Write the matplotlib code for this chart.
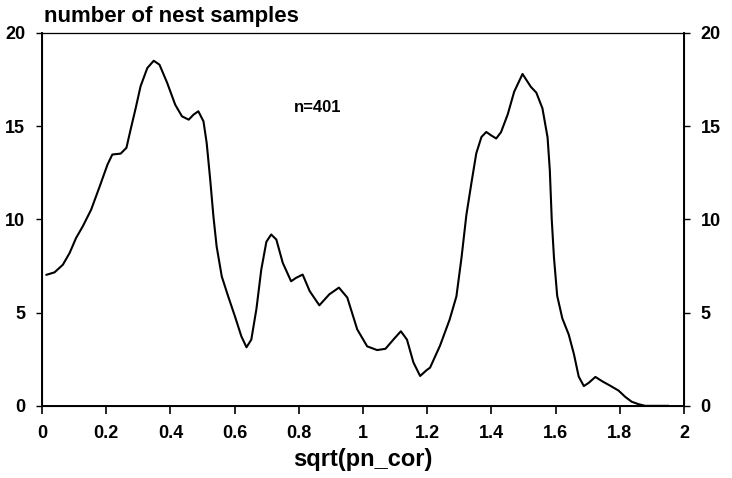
import matplotlib.pyplot as plt

plt.rcParams["font.family"] = ["Liberation Sans", "DejaVu Sans"]
plt.rcParams["font.weight"] = "bold"

# curve
x_vals = [0.014, 0.039, 0.065, 0.086, 0.106, 0.127, 0.153, 0.178, 0.204, 0.219,
          0.245, 0.263, 0.276, 0.292, 0.307, 0.328, 0.348, 0.366, 0.390, 0.415,
          0.436, 0.457, 0.472, 0.487, 0.503, 0.513, 0.524, 0.534, 0.544, 0.560,
          0.580, 0.601, 0.621, 0.637, 0.652, 0.668, 0.683, 0.699, 0.714, 0.730,
          0.750, 0.776, 0.791, 0.812, 0.834, 0.864, 0.895, 0.925, 0.951, 0.982,
          1.013, 1.044, 1.070, 1.095, 1.118, 1.137, 1.157, 1.178, 1.198, 1.209,
          1.240, 1.270, 1.291, 1.307, 1.322, 1.338, 1.353, 1.369, 1.384, 1.399,
          1.415, 1.430, 1.451, 1.471, 1.497, 1.523, 1.540, 1.559, 1.575, 1.582,
          1.588, 1.595, 1.605, 1.621, 1.641, 1.657, 1.672, 1.688, 1.703, 1.724,
          1.745, 1.770, 1.796, 1.817, 1.837, 1.858, 1.879, 1.95]
y_vals = [7.03, 7.16, 7.57, 8.2, 9.0, 9.63, 10.52, 11.69, 12.94, 13.48,
          13.53, 13.84, 14.82, 15.98, 17.14, 18.12, 18.51, 18.3, 17.32, 16.15,
          15.53, 15.35, 15.62, 15.8, 15.26, 14.1, 12.13, 10.16, 8.55, 6.94,
          5.87, 4.8, 3.73, 3.14, 3.55, 5.2, 7.3, 8.8, 9.19, 8.92,
          7.67, 6.68, 6.86, 7.04, 6.15, 5.39, 5.98, 6.34, 5.81, 4.1,
          3.19, 2.99, 3.06, 3.56, 4.0, 3.55, 2.33, 1.6, 1.91, 2.05,
          3.23, 4.63, 5.87, 7.96, 10.23, 11.98, 13.55, 14.42, 14.69, 14.51,
          14.34, 14.68, 15.64, 16.85, 17.8, 17.11, 16.8, 15.96, 14.4, 12.64,
          10.0, 7.94, 5.9, 4.69, 3.82, 2.78, 1.57, 1.06, 1.23, 1.55,
          1.32, 1.08, 0.82, 0.48, 0.22, 0.09, 0.0, 0.0]

x_ticks = [0, 0.2, 0.4, 0.6, 0.8, 1, 1.2, 1.4, 1.6, 1.8, 2]
x_labels = ["0", "0.2", "0.4", "0.6", "0.8", "1", "1.2", "1.4", "1.6", "1.8", "2"]
y_ticks = [0, 5, 10, 15, 20]

fig = plt.figure(figsize=(7.32, 4.78), dpi=100)
ax = fig.add_axes([0.0574, 0.151, 0.877, 0.780])
ax.plot(x_vals, y_vals, color="black", lw=1.5, solid_joinstyle="round")
ax.set_xlim(0, 2)
ax.set_ylim(0, 20)
ax.set_xticks(x_ticks)
ax.set_xticklabels(x_labels)
ax.set_yticks(y_ticks)
ax.tick_params(axis="x", direction="out", length=6, width=1.2, pad=8, labelsize=13)
ax.tick_params(axis="y", direction="out", length=4, width=1.0, pad=8, labelsize=13)
for side in ["left", "bottom", "right"]:
    ax.spines[side].set_linewidth(1.4)
ax.spines["top"].set_linewidth(0.9)
ax.spines["top"].set_color("#444444")
ax.set_xlabel("sqrt(pn_cor)", fontsize=17, fontweight="bold", labelpad=4)

ax2 = ax.twinx()
ax2.set_ylim(0, 20)
ax2.set_yticks(y_ticks)
ax2.tick_params(axis="y", direction="out", length=4, width=1.0, pad=8, labelsize=13)

ax.text(0.86, 16.0, "n=401", fontsize=12, ha="center", va="center")
fig.text(0.06, 0.966, "number of nest samples", fontsize=16, ha="left", va="center")

fig.savefig("out.png", dpi=100)
